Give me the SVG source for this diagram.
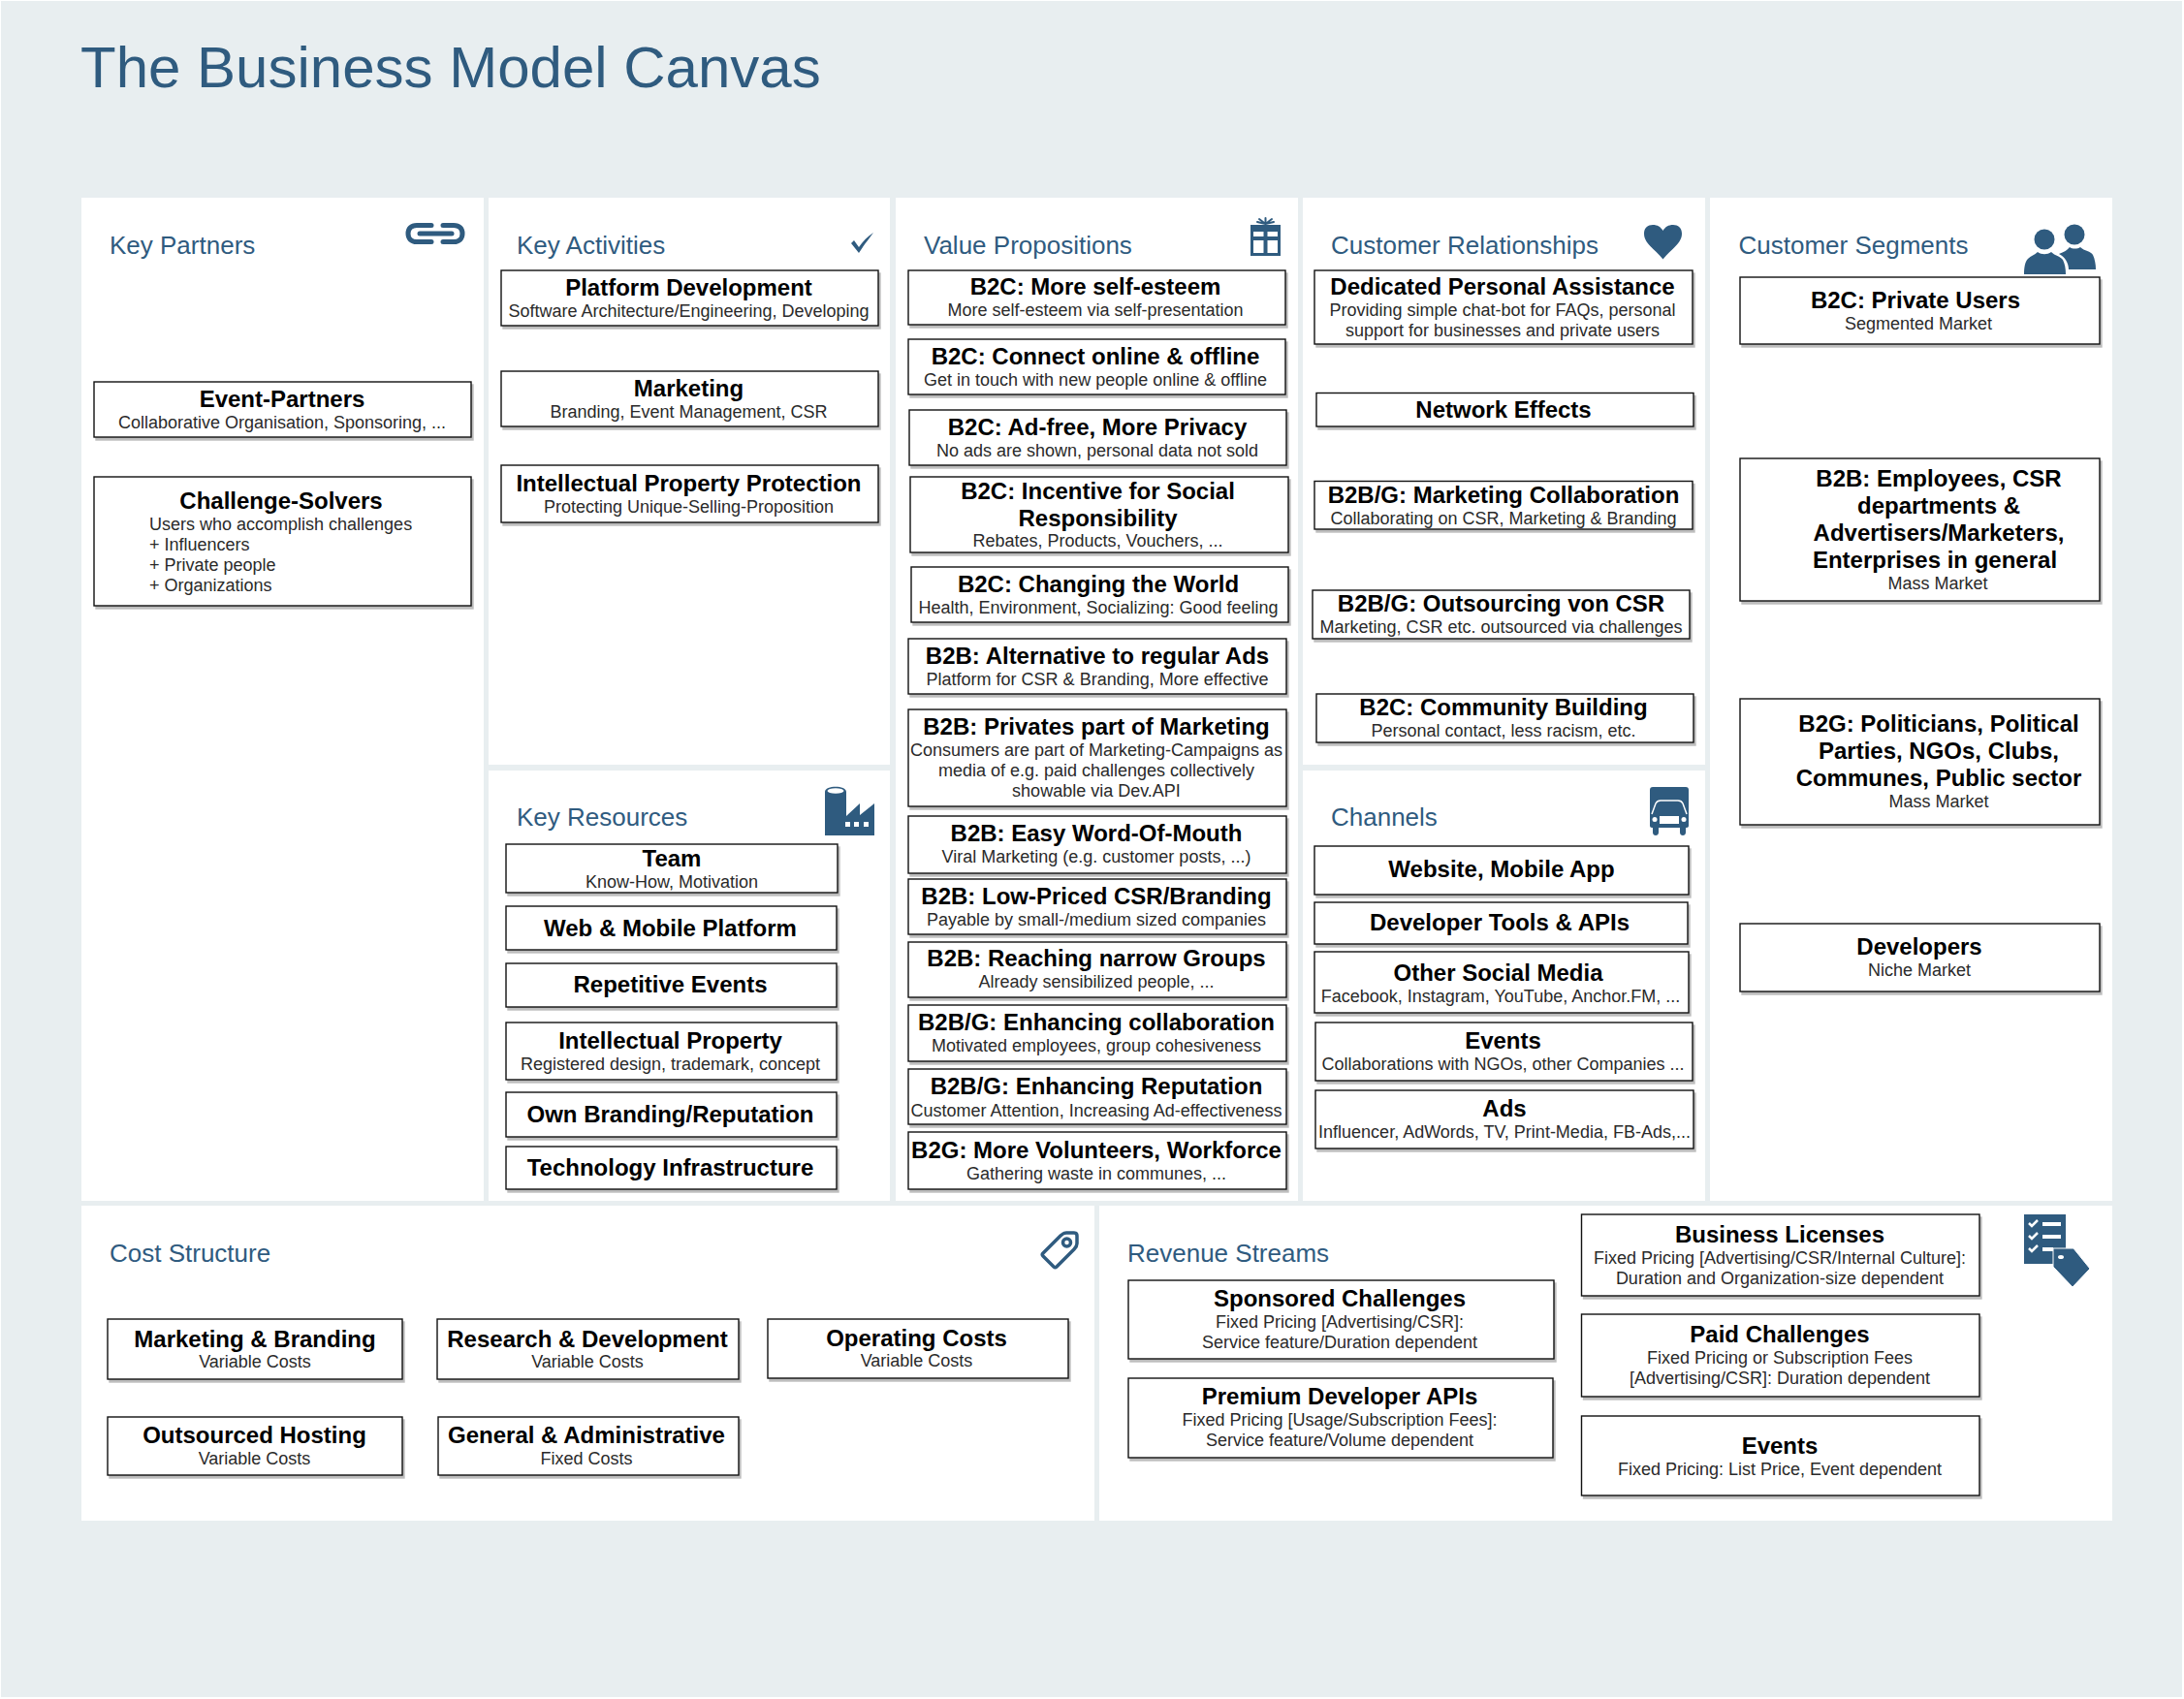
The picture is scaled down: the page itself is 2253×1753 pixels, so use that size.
<svg xmlns="http://www.w3.org/2000/svg" width="2253" height="1753" viewBox="0 0 2253 1753">
<style>
text{font-family:"Liberation Sans",Arial,sans-serif}
.bg{fill:#e8eef0}
.p{fill:#fff}
.h{font-size:26px;fill:#2f5b7f}
.title{font-size:60px;fill:#2f5b7f}
.b{fill:#fff;stroke:#111;stroke-width:1.4;filter:drop-shadow(2px 3px 0 #bdbdbd)}
.t{font-size:24px;font-weight:bold;text-anchor:middle;fill:#000}
.s{font-size:18px;text-anchor:middle;fill:#2a2a2a}
.l{font-size:18px;fill:#2a2a2a}
.i{fill:#2f5b7f}
.w{fill:#fff}
.o{fill:none;stroke:#2f5b7f;stroke-linecap:round;stroke-linejoin:round}
</style>
<rect class="bg" x="1" y="1" width="2250" height="1750"/>
<text class="title" x="83" y="90" id="main-title">The Business Model Canvas</text>

<g id="panel-key-partners"><rect class="p" x="84" y="204" width="415" height="1035"/><text class="h" x="113" y="262">Key Partners</text>
<g id="icon-link" class="o" stroke-width="5"><path d="M445 232.500H430C424 232.500 421 236 421 241C421 246 424 249.500 430 249.500H445M457 232.500H468C474 232.500 477 236 477 241C477 246 474 249.500 468 249.500H457"/><path d="M433 241H466"/></g></g>
<g id="panel-key-activities"><rect class="p" x="504" y="204" width="414" height="585"/><text class="h" x="533" y="262">Key Activities</text>
<path id="icon-check" class="i" d="M878 251L881 248L886 255C890 249 895 244 901 240C896 247 891 253 886 261Z"/></g>
<g id="panel-key-resources"><rect class="p" x="504" y="795" width="414" height="444"/><text class="h" x="533" y="852">Key Resources</text>
<g id="icon-factory"><path class="i" d="M851 817C851 810 873 810 873 817V842L887 829V841L902 829V862H851Z"/><ellipse class="w" cx="862" cy="816" rx="8.500" ry="2.800"/><path class="w" d="M872 848h5v5h-5zM881 848h5v5h-5zM891 848h5v5h-5z"/></g></g>
<g id="panel-value-propositions"><rect class="p" x="924" y="204" width="415" height="1035"/><text class="h" x="953" y="262">Value Propositions</text>
<g id="icon-gift"><path class="i" d="M1290 232H1321V264H1290ZM1293 239V244H1303.500V239ZM1307.500 239V244H1318V239ZM1293 248V261H1303.500V248ZM1307.500 248V261H1318V248Z" fill-rule="evenodd"/><path class="o" stroke-width="2" d="M1305.500 231L1299 226M1305.500 231L1305.500 225M1305.500 231L1312 226M1305.500 231L1297 229M1305.500 231L1314 229"/></g></g>
<g id="panel-customer-relationships"><rect class="p" x="1344" y="204" width="415" height="585"/><text class="h" x="1373" y="262">Customer Relationships</text>
<path id="icon-heart" class="i" d="M1715.500 267.500C1706 256 1696 251 1696 241C1696 235 1700 232 1705 232C1710 232 1713 234 1715.500 238C1718 234 1721 232 1726 232C1731 232 1735 235 1735 241C1735 251 1725 256 1715.500 267.500Z"/></g>
<g id="panel-channels"><rect class="p" x="1344" y="795" width="415" height="444"/><text class="h" x="1373" y="852">Channels</text>
<g id="icon-truck"><path class="i" d="M1705 812H1739C1741 812 1742 813 1742 815V852C1742 853 1741 854 1740 854H1739V859C1739 863 1733 863 1733 859V854H1711V859C1711 863 1705 863 1705 859V854H1704C1703 854 1702 853 1702 852V815C1702 813 1703 812 1705 812Z"/><path fill="none" stroke="#fff" stroke-width="1.500" d="M1704 840L1708 829C1709 827 1710 826 1713 826H1731C1734 826 1735 827 1736 829L1740 840"/><path class="w" d="M1712 842H1732V850H1712Z"/><circle class="w" cx="1707" cy="845.500" r="2.500"/><circle class="w" cx="1737" cy="845.500" r="2.500"/></g></g>
<g id="panel-customer-segments"><rect class="p" x="1764" y="204" width="415" height="1035"/><text class="h" x="1793.500" y="262">Customer Segments</text>
<g id="icon-people"><circle class="i" cx="2140" cy="242" r="10.500"/><path class="i" d="M2124 262C2129 260 2133 258 2135 255C2138 257 2143 257 2146 255C2150 259 2157 259 2159 263C2161 267 2162 273 2162 278H2134C2134 271 2130 265 2124 262Z"/><circle class="i" cx="2109" cy="247" r="10.500"/><path class="i" d="M2088 283C2088 276 2089 270 2092 267C2095 264 2099 263 2102 260C2106 263 2112 263 2116 260C2120 264 2125 264 2128 268C2130 272 2131 277 2131 283Z"/></g></g>
<g id="panel-cost-structure"><rect class="p" x="84" y="1244" width="1045" height="325"/><text class="h" x="113" y="1302">Cost Structure</text>
<g id="icon-tag" class="o" stroke-width="3.500"><path d="M1076 1293L1094 1275C1096 1273 1098 1272 1100 1272H1108C1110 1272 1111 1273 1111 1275V1283C1111 1285 1110 1287 1108 1289L1090 1307C1089 1308 1088 1308 1087 1307L1076 1296C1075 1295 1075 1294 1076 1293Z"/><circle cx="1100.500" cy="1282" r="4"/></g></g>
<g id="panel-revenue-streams"><rect class="p" x="1134" y="1244" width="1045" height="325"/><text class="h" x="1163" y="1302">Revenue Streams</text>
<g id="icon-price-list"><rect class="i" x="2088" y="1253" width="43" height="51"/><path class="w" d="M2107 1261H2126V1265H2107ZM2107 1274H2126V1278H2107ZM2107 1287H2118V1291H2107Z"/><path fill="none" stroke="#fff" stroke-width="2.500" d="M2093 1262L2096 1265L2102 1259M2093 1275L2096 1278L2102 1272M2093 1288L2096 1291L2102 1285"/><path class="i" stroke="#fff" stroke-width="1" d="M2118 1288H2139L2156 1309L2138 1328L2118 1307Z"/><ellipse class="w" cx="2126" cy="1297" rx="3" ry="2"/></g></g>

<g id="event-partners"><rect class="b" x="97" y="394" width="389" height="57"/><text class="t" x="291" y="420">Event-Partners</text><text class="s" x="291" y="442">Collaborative Organisation, Sponsoring, ...</text></g>
<g id="challenge-solvers"><rect class="b" x="97" y="492" width="389" height="133"/><text class="t" x="290" y="525">Challenge-Solvers</text><text class="l" x="154" y="547">Users who accomplish challenges</text><text class="l" x="154" y="568">+ Influencers</text><text class="l" x="154" y="589">+ Private people</text><text class="l" x="154" y="610">+ Organizations</text></g>

<g id="platform-development"><rect class="b" x="517" y="279" width="389" height="57"/><text class="t" x="710.500" y="305">Platform Development</text><text class="s" x="710.500" y="327">Software Architecture/Engineering, Developing</text></g>
<g id="marketing"><rect class="b" x="517" y="383" width="389" height="57"/><text class="t" x="710.500" y="409">Marketing</text><text class="s" x="710.500" y="431">Branding, Event Management, CSR</text></g>
<g id="ip-protection"><rect class="b" x="517" y="480" width="389" height="59"/><text class="t" x="710.500" y="507">Intellectual Property Protection</text><text class="s" x="710.500" y="529">Protecting Unique-Selling-Proposition</text></g>

<g id="team"><rect class="b" x="522" y="871" width="342" height="50"/><text class="t" x="693" y="894">Team</text><text class="s" x="693" y="916">Know-How, Motivation</text></g>
<g id="web-mobile-platform"><rect class="b" x="522" y="935" width="341" height="45"/><text class="t" x="691.500" y="966">Web &amp; Mobile Platform</text></g>
<g id="repetitive-events"><rect class="b" x="522" y="994" width="341" height="45"/><text class="t" x="691.500" y="1024">Repetitive Events</text></g>
<g id="intellectual-property"><rect class="b" x="522" y="1055" width="341" height="59"/><text class="t" x="691.500" y="1082">Intellectual Property</text><text class="s" x="691.500" y="1104">Registered design, trademark, concept</text></g>
<g id="own-branding"><rect class="b" x="522" y="1127" width="341" height="46"/><text class="t" x="691.500" y="1158">Own Branding/Reputation</text></g>
<g id="technology-infrastructure"><rect class="b" x="522" y="1183" width="341" height="44"/><text class="t" x="691.500" y="1213">Technology Infrastructure</text></g>

<g id="vp-self-esteem"><rect class="b" x="937" y="279" width="389" height="56"/><text class="t" x="1130" y="303.500">B2C: More self-esteem</text><text class="s" x="1130" y="326">More self-esteem via self-presentation</text></g>
<g id="vp-connect"><rect class="b" x="937" y="350" width="389" height="57"/><text class="t" x="1130" y="376">B2C: Connect online &amp; offline</text><text class="s" x="1130" y="398">Get in touch with new people online &amp; offline</text></g>
<g id="vp-ad-free"><rect class="b" x="938" y="423" width="389" height="57"/><text class="t" x="1132" y="449">B2C: Ad-free, More Privacy</text><text class="s" x="1132" y="471">No ads are shown, personal data not sold</text></g>
<g id="vp-incentive"><rect class="b" x="939" y="492" width="390" height="78"/><text class="t" x="1132.500" y="515">B2C: Incentive for Social</text><text class="t" x="1132.500" y="543">Responsibility</text><text class="s" x="1132.500" y="564">Rebates, Products, Vouchers, ...</text></g>
<g id="vp-world"><rect class="b" x="940" y="585" width="389" height="57"/><text class="t" x="1133" y="611">B2C: Changing the World</text><text class="s" x="1133" y="633">Health, Environment, Socializing: Good feeling</text></g>
<g id="vp-alt-ads"><rect class="b" x="937" y="659" width="390" height="57"/><text class="t" x="1132" y="685">B2B: Alternative to regular Ads</text><text class="s" x="1132" y="707">Platform for CSR &amp; Branding, More effective</text></g>
<g id="vp-privates"><rect class="b" x="937" y="732" width="390" height="100"/><text class="t" x="1131" y="758">B2B: Privates part of Marketing</text><text class="s" x="1131" y="780">Consumers are part of Marketing-Campaigns as</text><text class="s" x="1131" y="801">media of e.g. paid challenges collectively</text><text class="s" x="1131" y="822">showable via Dev.API</text></g>
<g id="vp-word-of-mouth"><rect class="b" x="937" y="842" width="390" height="59"/><text class="t" x="1131" y="868">B2B: Easy Word-Of-Mouth</text><text class="s" x="1131" y="890">Viral Marketing (e.g. customer posts, ...)</text></g>
<g id="vp-low-priced"><rect class="b" x="937" y="907" width="390" height="57"/><text class="t" x="1131" y="933">B2B: Low-Priced CSR/Branding</text><text class="s" x="1131" y="955">Payable by small-/medium sized companies</text></g>
<g id="vp-narrow-groups"><rect class="b" x="937" y="972" width="390" height="57"/><text class="t" x="1131" y="997">B2B: Reaching narrow Groups</text><text class="s" x="1131" y="1019">Already sensibilized people, ...</text></g>
<g id="vp-collaboration"><rect class="b" x="937" y="1037" width="390" height="58"/><text class="t" x="1131" y="1062.500">B2B/G: Enhancing collaboration</text><text class="s" x="1131" y="1084.500">Motivated employees, group cohesiveness</text></g>
<g id="vp-reputation"><rect class="b" x="937" y="1103" width="390" height="57"/><text class="t" x="1131" y="1128.500">B2B/G: Enhancing Reputation</text><text class="s" x="1131" y="1152">Customer Attention, Increasing Ad-effectiveness</text></g>
<g id="vp-volunteers"><rect class="b" x="937" y="1168" width="390" height="59"/><text class="t" x="1131" y="1195">B2G: More Volunteers, Workforce</text><text class="s" x="1131" y="1217">Gathering waste in communes, ...</text></g>

<g id="cr-assistance"><rect class="b" x="1356" y="279" width="390" height="76"/><text class="t" x="1550" y="303.500">Dedicated Personal Assistance</text><text class="s" x="1550" y="326">Providing simple chat-bot for FAQs, personal</text><text class="s" x="1550" y="347">support for businesses and private users</text></g>
<g id="cr-network"><rect class="b" x="1358" y="405.500" width="389" height="34.500"/><text class="t" x="1551" y="431">Network Effects</text></g>
<g id="cr-collaboration"><rect class="b" x="1356" y="496.500" width="390" height="49.500"/><text class="t" x="1551" y="519">B2B/G: Marketing Collaboration</text><text class="s" x="1551" y="541">Collaborating on CSR, Marketing &amp; Branding</text></g>
<g id="cr-outsourcing"><rect class="b" x="1354" y="609" width="389" height="50"/><text class="t" x="1548.500" y="631">B2B/G: Outsourcing von CSR</text><text class="s" x="1548.500" y="653">Marketing, CSR etc. outsourced via challenges</text></g>
<g id="cr-community"><rect class="b" x="1358" y="716" width="389" height="50"/><text class="t" x="1551" y="738">B2C: Community Building</text><text class="s" x="1551" y="760">Personal contact, less racism, etc.</text></g>

<g id="ch-website"><rect class="b" x="1356" y="873" width="386" height="50"/><text class="t" x="1549" y="905">Website, Mobile App</text></g>
<g id="ch-dev-tools"><rect class="b" x="1356" y="931" width="385" height="43"/><text class="t" x="1547" y="960">Developer Tools &amp; APIs</text></g>
<g id="ch-social"><rect class="b" x="1356" y="982" width="386" height="63"/><text class="t" x="1545.500" y="1011.500">Other Social Media</text><text class="s" x="1548" y="1033.500">Facebook, Instagram, YouTube, Anchor.FM, ...</text></g>
<g id="ch-events"><rect class="b" x="1357" y="1055" width="389" height="60"/><text class="t" x="1550.500" y="1081.500">Events</text><text class="s" x="1550.500" y="1104">Collaborations with NGOs, other Companies ...</text></g>
<g id="ch-ads"><rect class="b" x="1357" y="1125" width="390" height="60"/><text class="t" x="1552" y="1151.500">Ads</text><text class="s" x="1552" y="1174">Influencer, AdWords, TV, Print-Media, FB-Ads,...</text></g>

<g id="cs-private"><rect class="b" x="1795" y="286" width="371" height="69"/><text class="t" x="1976" y="318">B2C: Private Users</text><text class="s" x="1979" y="340">Segmented Market</text></g>
<g id="cs-b2b"><rect class="b" x="1795" y="473" width="371" height="147"/><text class="t" x="2000" y="502">B2B: Employees, CSR</text><text class="t" x="2000" y="530">departments &amp;</text><text class="t" x="2000" y="558">Advertisers/Marketers,</text><text class="t" x="1996" y="586">Enterprises in general</text><text class="s" x="1999" y="608">Mass Market</text></g>
<g id="cs-b2g"><rect class="b" x="1795" y="721" width="371" height="130"/><text class="t" x="2000" y="755">B2G: Politicians, Political</text><text class="t" x="2000" y="783">Parties, NGOs, Clubs,</text><text class="t" x="2000" y="811">Communes, Public sector</text><text class="s" x="2000" y="833">Mass Market</text></g>
<g id="cs-developers"><rect class="b" x="1795" y="953" width="371" height="70"/><text class="t" x="1980" y="984.500">Developers</text><text class="s" x="1980" y="1007">Niche Market</text></g>

<g id="cost-marketing"><rect class="b" x="111" y="1361" width="304" height="62"/><text class="t" x="263" y="1389.500">Marketing &amp; Branding</text><text class="s" x="263" y="1411">Variable Costs</text></g>
<g id="cost-rd"><rect class="b" x="451" y="1361" width="311" height="62"/><text class="t" x="606" y="1389.500">Research &amp; Development</text><text class="s" x="606" y="1411">Variable Costs</text></g>
<g id="cost-operating"><rect class="b" x="792" y="1361" width="310" height="61"/><text class="t" x="945.500" y="1388.500">Operating Costs</text><text class="s" x="945.500" y="1410">Variable Costs</text></g>
<g id="cost-hosting"><rect class="b" x="111" y="1462" width="304" height="60"/><text class="t" x="262.500" y="1488.500">Outsourced Hosting</text><text class="s" x="262.500" y="1511">Variable Costs</text></g>
<g id="cost-general"><rect class="b" x="452" y="1462" width="310" height="60"/><text class="t" x="605" y="1488.500">General &amp; Administrative</text><text class="s" x="605" y="1511">Fixed Costs</text></g>

<g id="rev-sponsored"><rect class="b" x="1164" y="1321" width="439" height="81"/><text class="t" x="1382" y="1348">Sponsored Challenges</text><text class="s" x="1382" y="1370">Fixed Pricing [Advertising/CSR]:</text><text class="s" x="1382" y="1391">Service feature/Duration dependent</text></g>
<g id="rev-premium"><rect class="b" x="1164" y="1422" width="438" height="82"/><text class="t" x="1382" y="1449">Premium Developer APIs</text><text class="s" x="1382" y="1471">Fixed Pricing [Usage/Subscription Fees]:</text><text class="s" x="1382" y="1492">Service feature/Volume dependent</text></g>
<g id="rev-licenses"><rect class="b" x="1631.500" y="1253" width="410.500" height="84"/><text class="t" x="1836" y="1282">Business Licenses</text><text class="s" x="1836" y="1304">Fixed Pricing [Advertising/CSR/Internal Culture]:</text><text class="s" x="1836" y="1325">Duration and Organization-size dependent</text></g>
<g id="rev-paid"><rect class="b" x="1631.500" y="1356" width="410.500" height="85"/><text class="t" x="1836" y="1385">Paid Challenges</text><text class="s" x="1836" y="1407">Fixed Pricing or Subscription Fees</text><text class="s" x="1836" y="1428">[Advertising/CSR]: Duration dependent</text></g>
<g id="rev-events"><rect class="b" x="1631.500" y="1461" width="410.500" height="82"/><text class="t" x="1836" y="1500">Events</text><text class="s" x="1836" y="1522">Fixed Pricing: List Price, Event dependent</text></g>
</svg>
